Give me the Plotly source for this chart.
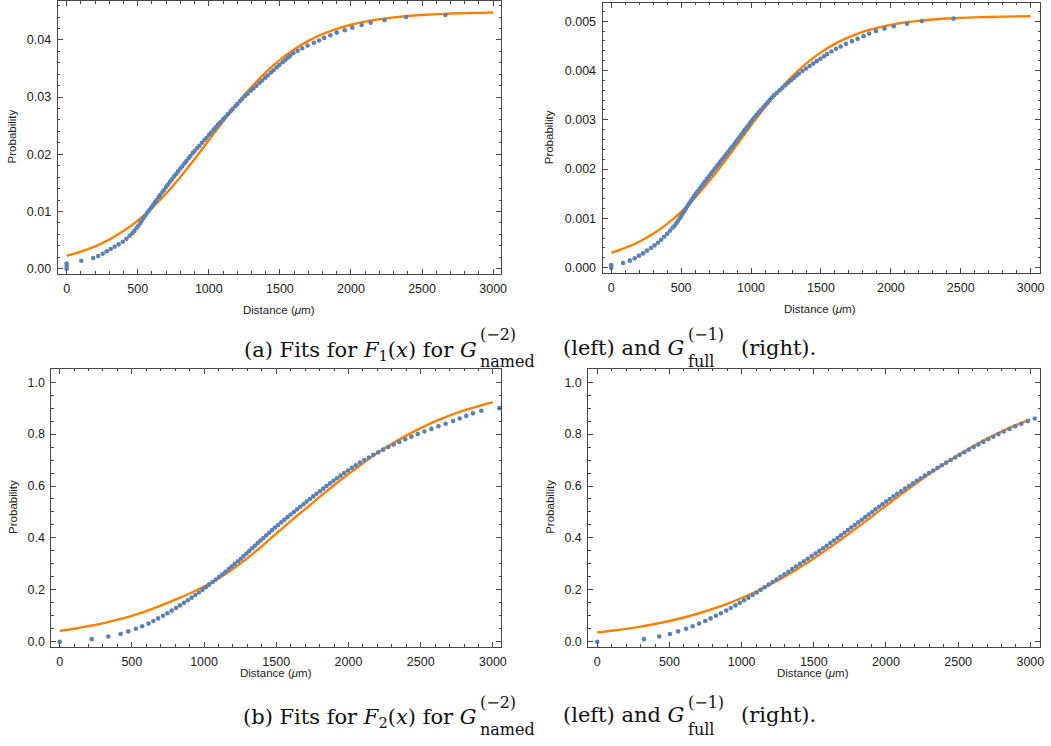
import plotly.graph_objects as go

W, H = 1051, 746

# ---------------- data ----------------
# (a) left: F1 fit, G named (-2)
tl_dist = [0, 0, 0, 103, 187, 222, 254, 282, 310, 338, 366, 395, 420, 443,
           462, 477, 492, 505, 518, 529, 542, 554, 568,
           580, 595, 607, 621, 633, 648, 659, 674, 686, 700, 712,
           727, 740, 756, 769, 784, 800, 813, 829, 842, 858, 870,
           887, 901, 919, 934, 952, 969, 984, 1002, 1016, 1034, 1048,
           1066, 1081, 1100, 1115, 1134, 1153, 1167, 1186, 1201, 1220, 1235,
           1255, 1273, 1295, 1313, 1335, 1357, 1375, 1397, 1415, 1437, 1455,
           1477, 1496, 1519, 1538, 1557,
           1571, 1594, 1625, 1657, 1695, 1739, 1776, 1811, 1855, 1900, 1956,
           2009, 2075, 2138, 2236, 2387, 2664]
tl_prob = [0.0, 0.00045, 0.0009, 0.00139, 0.00186, 0.00221, 0.00261, 0.00303, 0.00343,
           0.00383, 0.00425, 0.0047, 0.00522, 0.00575,
           0.0062, 0.0066, 0.0071, 0.0075, 0.0080, 0.0084, 0.0089, 0.0093, 0.0098,
           0.0102, 0.0107, 0.0111, 0.0116, 0.0120, 0.0125, 0.0129, 0.0134, 0.0138, 0.0143, 0.0147,
           0.0152, 0.0156, 0.0161, 0.0165, 0.0170, 0.0175, 0.0179, 0.0184, 0.0188, 0.0193, 0.0197,
           0.0202, 0.0206, 0.0211, 0.0215, 0.0220, 0.0225, 0.0229, 0.0234, 0.0238, 0.0243, 0.0247,
           0.0252, 0.0256, 0.0261, 0.0265, 0.0270, 0.0275, 0.0279, 0.0284, 0.0288, 0.0293, 0.0297,
           0.0302, 0.0306, 0.0311, 0.0315, 0.0320, 0.0325, 0.0329, 0.0334, 0.0338, 0.0343, 0.0347,
           0.0352, 0.0356, 0.0361, 0.0365, 0.0369,
           0.03721, 0.03768, 0.03808, 0.03855, 0.03901, 0.03948, 0.03988, 0.04035, 0.04082,
           0.04127, 0.04169, 0.04214, 0.04261, 0.04301, 0.04348, 0.04400, 0.04435]

# (a) right: F1 fit, G full (-1)
tr_dist = [0, 0, 85, 133, 168, 199, 228, 256, 285, 310, 335, 357, 379, 400, 420, 439,
           453, 466, 478, 490, 501, 512, 523, 535, 546, 557, 569, 581, 593, 605,
           618, 632, 645, 659, 672, 686, 699, 713, 726, 740,
           754, 768, 781, 795, 809, 823, 837, 850, 864, 878,
           891, 904, 918, 931, 944, 957, 970, 984, 997, 1010,
           1025, 1040, 1055, 1070,
           1086, 1102, 1118, 1133, 1149, 1165,
           1185, 1205, 1225, 1245, 1265, 1286, 1306, 1326,
           1342, 1368, 1393, 1419, 1445, 1470, 1496, 1522,
           1544, 1575, 1608, 1641, 1679, 1722, 1762, 1805, 1845, 1893, 1954,
           2021, 2116, 2222, 2448]
tr_prob = [0.0, 0.00005, 0.000095, 0.000142, 0.00019, 0.000243, 0.00029, 0.000344, 0.000398,
           0.000452, 0.000505, 0.000566, 0.000627, 0.000687, 0.000748, 0.000808,
           0.00085, 0.0009, 0.00095, 0.001, 0.00105, 0.0011, 0.00115, 0.0012, 0.00125, 0.0013,
           0.00135, 0.0014, 0.00145, 0.0015,
           0.00155, 0.0016, 0.00165, 0.0017, 0.00175, 0.0018, 0.00185, 0.0019, 0.00195, 0.002,
           0.00205, 0.0021, 0.00215, 0.0022, 0.00225, 0.0023, 0.00235, 0.0024, 0.00245, 0.0025,
           0.00255, 0.0026, 0.00265, 0.0027, 0.00275, 0.0028, 0.00285, 0.0029, 0.00295, 0.003,
           0.00305, 0.0031, 0.00315, 0.0032,
           0.00325, 0.0033, 0.00335, 0.0034, 0.00345, 0.0035,
           0.00355, 0.0036, 0.00365, 0.0037, 0.00375, 0.0038, 0.00385, 0.0039,
           0.00394, 0.00399, 0.00404, 0.00409, 0.00414, 0.00419, 0.00424, 0.00429,
           0.004333, 0.004386, 0.00444, 0.004487, 0.004541, 0.004596, 0.004642, 0.004697,
           0.004749, 0.004804, 0.00485, 0.004899, 0.004951, 0.005006, 0.005053]

# (b) left: F2 fit, G named (-2)
bl_dist = [0, 222, 337, 422, 475, 528, 571, 615, 649, 682, 716, 746, 776, 806, 833,
           861, 888, 914, 939, 964, 989, 1012, 1035, 1059, 1081, 1104, 1127, 1148, 1171,
           1191, 1212, 1235,
           1255, 1274, 1294, 1313, 1333, 1352, 1372, 1391, 1411, 1431, 1451, 1471, 1491,
           1512, 1534, 1556, 1578, 1600, 1622, 1644, 1666, 1688, 1710, 1733, 1756, 1779,
           1802, 1825, 1848, 1872, 1896, 1920, 1945, 1970, 1996, 2023, 2051, 2080, 2110,
           2141, 2173, 2206, 2240, 2276, 2313, 2352, 2393, 2436, 2480, 2526, 2574, 2623,
           2673, 2724, 2770, 2815, 2862, 2920, 3045]
bl_prob = [0.00, 0.01, 0.02, 0.03, 0.04, 0.05, 0.06, 0.07, 0.08, 0.09, 0.10, 0.11, 0.12,
           0.13, 0.14, 0.15, 0.16, 0.17, 0.18, 0.19, 0.20, 0.21, 0.22, 0.23, 0.24, 0.25,
           0.26, 0.27, 0.28, 0.29, 0.30, 0.31, 0.32, 0.33, 0.34, 0.35, 0.36, 0.37, 0.38,
           0.39, 0.40, 0.41, 0.42, 0.43, 0.44, 0.45, 0.46, 0.47, 0.48, 0.49, 0.50, 0.51,
           0.52, 0.53, 0.54, 0.55, 0.56, 0.57, 0.58, 0.59, 0.60, 0.61, 0.62, 0.63, 0.64,
           0.65, 0.66, 0.67, 0.68, 0.69, 0.70, 0.71, 0.72, 0.73, 0.74, 0.75, 0.76, 0.77,
           0.78, 0.79, 0.80, 0.81, 0.82, 0.83, 0.84, 0.85, 0.86, 0.87, 0.88, 0.89, 0.90]

# (b) right: F2 fit, G full (-1)
br_dist = [0, 323, 429, 503, 560, 615, 661, 705, 748, 785, 822, 856, 893, 925, 957, 987,
           1017, 1047, 1076, 1104, 1132, 1159, 1187, 1214, 1242, 1269, 1297, 1324, 1350, 1377,
           1404, 1431, 1458, 1485, 1512, 1538, 1564, 1589, 1614, 1639, 1664, 1688, 1712,
           1736, 1760, 1784, 1808, 1832, 1856, 1880, 1904, 1928, 1952, 1976, 2001, 2026,
           2052, 2078, 2105, 2132, 2159, 2186, 2213, 2241, 2269, 2298, 2327, 2357, 2387,
           2417, 2448, 2479, 2510, 2542, 2574, 2607, 2640, 2674, 2708, 2743, 2779, 2816,
           2855, 2895, 2937, 2982, 3030]
br_prob = [0.00, 0.01, 0.02, 0.03, 0.04, 0.05, 0.06, 0.07, 0.08, 0.09, 0.10, 0.11, 0.12,
           0.13, 0.14, 0.15, 0.16, 0.17, 0.18, 0.19, 0.20, 0.21, 0.22, 0.23, 0.24, 0.25,
           0.26, 0.27, 0.28, 0.29, 0.30, 0.31, 0.32, 0.33, 0.34, 0.35, 0.36, 0.37, 0.38,
           0.39, 0.40, 0.41, 0.42, 0.43, 0.44, 0.45, 0.46, 0.47, 0.48, 0.49, 0.50, 0.51,
           0.52, 0.53, 0.54, 0.55, 0.56, 0.57, 0.58, 0.59, 0.60, 0.61, 0.62, 0.63, 0.64,
           0.65, 0.66, 0.67, 0.68, 0.69, 0.70, 0.71, 0.72, 0.73, 0.74, 0.75, 0.76, 0.77,
           0.78, 0.79, 0.80, 0.81, 0.82, 0.83, 0.84, 0.85, 0.86]

# fitted curves, sampled every 100 um
fit_dist = [0, 100, 200, 300, 400, 500, 600, 700, 800, 900, 1000, 1100, 1200, 1300, 1400,
            1500, 1600, 1700, 1800, 1900, 2000, 2100, 2200, 2300, 2400, 2500, 2600, 2700,
            2800, 2900, 3000]
tl_fit = [0.00225, 0.00297, 0.00390, 0.00508, 0.00656, 0.00839, 0.01058, 0.01314, 0.01603,
          0.01917, 0.02245, 0.02573, 0.02887, 0.03176, 0.03432, 0.03651, 0.03833, 0.03982,
          0.04100, 0.04193, 0.04265, 0.04320, 0.04362, 0.04394, 0.04418, 0.04436, 0.04450,
          0.04460, 0.04468, 0.04473, 0.04478]
tr_fit = [0.000300, 0.000399, 0.000525, 0.000686, 0.000887, 0.001131, 0.001420, 0.001751,
          0.002114, 0.002497, 0.002883, 0.003253, 0.003595, 0.003897, 0.004154, 0.004368,
          0.004541, 0.004677, 0.004783, 0.004864, 0.004926, 0.004973, 0.005008, 0.005034,
          0.005054, 0.005068, 0.005079, 0.005087, 0.005093, 0.005098, 0.005101]
bl_fit = [0.042, 0.050, 0.060, 0.071, 0.085, 0.100, 0.118, 0.139, 0.162, 0.186, 0.213,
          0.244, 0.280, 0.322, 0.368, 0.417, 0.465, 0.511, 0.558, 0.603, 0.646, 0.688,
          0.727, 0.762, 0.794, 0.823, 0.849, 0.871, 0.891, 0.908, 0.922]
br_fit = [0.036, 0.0424, 0.0498, 0.0584, 0.0684, 0.0800, 0.0935, 0.1088, 0.1263, 0.1462,
          0.1686, 0.1937, 0.2214, 0.2520, 0.2852, 0.3209, 0.3588, 0.3986, 0.4398, 0.4818,
          0.5241, 0.5660, 0.6071, 0.6466, 0.6842, 0.7196, 0.7524, 0.7826, 0.8100, 0.8347,
          0.8567]

x_title = "Distance (<i>\u03bc</i>m)"
y_title = "Probability"

# ---------------- layout helpers ----------------
def fx(p):
    return p / W


def fy(p):
    return 1 - p / H


DOT = "#5E81B5"
FIT = "rgb(255,128,0)"
FRAME = "#474747"
TICKFONT = dict(family="Liberation Sans, Arial, sans-serif", size=12.5, color="#222222")
TITLEFONT = dict(family="Liberation Sans, Arial, sans-serif", size=11.5, color="#222222")

panels = [
    dict(data=(tl_dist, tl_prob, tl_fit), xd=(58, 504), yd=(0, 274), xr=(-63, 3056),
         yr=(-0.00092, 0.0468), ydt=0.01, ymin=0.002, yfmt=".2f",
         ytitle=(13, 136), xtitle=(281, 310)),
    dict(data=(tr_dist, tr_prob, tr_fit), xd=(606, 1046), yd=(2, 273), xr=(-62, 3067),
         yr=(-0.000107, 0.00537), ydt=0.001, ymin=0.0002, yfmt=".3f",
         ytitle=(553, 137), xtitle=(825, 309)),
    dict(data=(bl_dist, bl_prob, bl_fit), xd=(51.7, 504), yd=(369, 648.3), xr=(-57, 3057),
         yr=(-0.019, 1.0526), ydt=0.2, ymin=0.05, yfmt=".1f",
         ytitle=(13, 508), xtitle=(278, 675)),
    dict(data=(br_dist, br_prob, br_fit), xd=(591.7, 1046), yd=(369, 648.3), xr=(-62, 3067),
         yr=(-0.019, 1.0526), ydt=0.2, ymin=0.05, yfmt=".1f",
         ytitle=(553, 508), xtitle=(818, 675)),
]

fig = go.Figure()
layout = dict(
    width=W, height=H,
    margin=dict(l=0, r=0, t=0, b=0),
    paper_bgcolor="white", plot_bgcolor="white",
    showlegend=False,
)
annotations = []

for i, p in enumerate(panels, start=1):
    sx = "" if i == 1 else str(i)
    dist, prob, fit = p["data"]
    fig.add_trace(go.Scatter(x=fit_dist, y=fit, mode="lines", line=dict(color=FIT, width=2.4, shape="spline"),
                             xaxis="x" + sx, yaxis="y" + sx, hoverinfo="skip"))
    fig.add_trace(go.Scatter(x=dist, y=prob, mode="markers",
                             marker=dict(color=DOT, size=4.6, line=dict(width=0)),
                             xaxis="x" + sx, yaxis="y" + sx))
    common = dict(showline=True, linecolor=FRAME, linewidth=1, mirror="allticks",
                  ticks="inside", ticklen=5, tickcolor=FRAME, tickwidth=1,
                  showgrid=False, zeroline=False, tickfont=TICKFONT)
    layout["xaxis" + sx] = dict(
        domain=[fx(p["xd"][0]), fx(p["xd"][1])], range=list(p["xr"]),
        anchor="y" + sx, tickmode="linear", tick0=0, dtick=500,
        minor=dict(ticks="inside", ticklen=2.5, tickcolor=FRAME, dtick=100, tick0=0, showgrid=False),
        ticklabelstandoff=3, **common)
    layout["yaxis" + sx] = dict(
        domain=[fy(p["yd"][1]), fy(p["yd"][0])], range=list(p["yr"]),
        anchor="x" + sx, tickmode="linear", tick0=0, dtick=p["ydt"], tickformat=p["yfmt"],
        minor=dict(ticks="inside", ticklen=2.5, tickcolor=FRAME, dtick=p["ymin"], tick0=0, showgrid=False),
        ticklabelstandoff=3, **common)
    annotations.append(dict(text=y_title, x=fx(p["ytitle"][0]), y=fy(p["ytitle"][1]),
                            xref="paper", yref="paper", showarrow=False, textangle=-90,
                            font=TITLEFONT, xanchor="center", yanchor="middle"))
    annotations.append(dict(text=x_title, x=fx(p["xtitle"][0]), y=fy(p["xtitle"][1]),
                            xref="paper", yref="paper", showarrow=False,
                            font=TITLEFONT, xanchor="center", yanchor="middle"))

# ---------------- sub-figure captions ----------------
SERIF = "DejaVu Serif, Liberation Serif, serif"


def caption(letter, fnum, ymid):
    items = []
    main = dict(family=SERIF, size=21, color="#111111")
    small = dict(family=SERIF, size=16, color="#111111")
    pieces = [
        ("(%s) Fits for <i>F</i><sub>%s</sub>(<i>x</i>) for <i>G</i>" % (letter, fnum), 482, ymid + 3, "right", main),
        ("(\u22122)", 481, ymid - 13, "left", small),
        ("named", 481, ymid + 14, "left", small),
        ("(left) and <i>G</i>", 690, ymid, "right", main),
        ("(\u22121)", 690, ymid - 13, "left", small),
        ("full", 690, ymid + 14, "left", small),
        ("(right).", 743, ymid, "left", main),
    ]
    for text, x, y, anchor, font in pieces:
        items.append(dict(text=text, x=fx(x), y=fy(y), xref="paper", yref="paper",
                          showarrow=False, xanchor=anchor, yanchor="middle", font=font))
    return items


annotations += caption("a", "1", 348)
annotations += caption("b", "2", 717)

layout["annotations"] = annotations
fig.update_layout(**layout)
fig.write_html("out.html")
